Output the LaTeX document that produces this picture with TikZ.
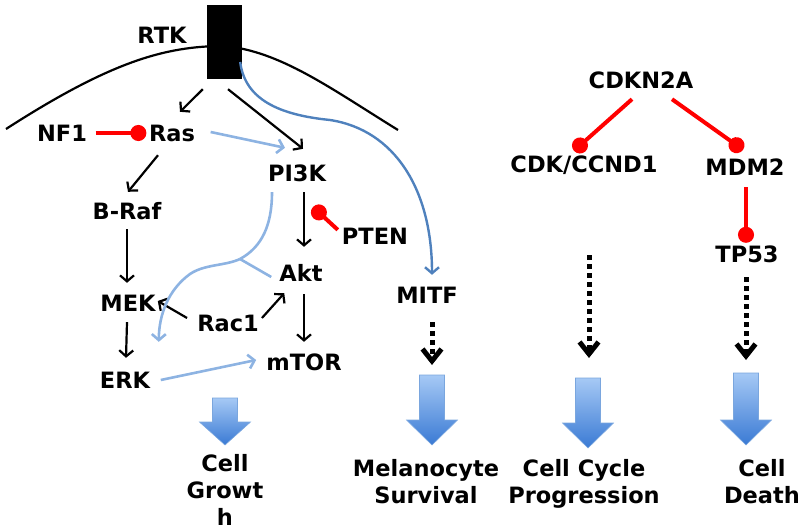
\documentclass[tikz,border=0pt]{standalone}
\usepackage{fontspec}
\setmainfont{DejaVu Sans}
\usetikzlibrary{arrows.meta}

\definecolor{ArrowBlue}{HTML}{8DB3E2}
\definecolor{MitfBlue}{HTML}{4F81BD}
\definecolor{InhibitRed}{HTML}{FF0000}
\definecolor{FateTop}{HTML}{A6C9F5}
\definecolor{FateBottom}{HTML}{3A7AD4}
\definecolor{FateEdge}{HTML}{7AA6DE}

\tikzstyle{gene}=[inner sep=0pt, font=\fontsize{22.5}{27}\selectfont\bfseries, text height=16pt, text depth=0pt]
\tikzstyle{fate}=[inner sep=0pt, anchor=north, align=center, font=\fontsize{22.5}{27}\selectfont\bfseries]
\tikzstyle{act}=[line width=2.2pt, -{Straight Barb[length=6pt,width=14pt]}]
\tikzstyle{act-light}=[act, ArrowBlue, line width=2.6pt]
\tikzstyle{inhibit}=[InhibitRed, line width=4pt, -{Circle[length=16pt]}]
\tikzstyle{dotted-arrow}=[line width=5pt, dash pattern=on 4.5pt off 4.5pt, -{Straight Barb[length=12pt,width=19pt,line width=5pt]}]

\begin{document}
\begin{tikzpicture}[x=1pt, y=-1pt]
      \useasboundingbox (0,0) rectangle (800,529);

      \draw[line width=2.2pt] (6,129) .. controls (110,62) and (165,46) .. (224,46) .. controls (280,51) and (330,88) .. (398,130);
      \node (rtk) at (224.5,42) [fill=black, minimum width=35pt, minimum height=74pt, inner sep=0pt] {};
      \node (rtklabel) at (162,36) [gene] {RTK};

      \node (nf1) at (62,134) [gene] {NF1};
      \node (ras) at (172,134) [gene] {Ras};
      \node (pi3k) at (297,174) [gene] {PI3K};
      \node (braf) at (127,212) [gene] {B-Raf};
      \node (pten) at (375,237) [gene] {PTEN};
      \node (akt) at (301,273) [gene] {Akt};
      \node (mek) at (128,303) [gene] {MEK};
      \node (rac1) at (228,323) [gene] {Rac1};
      \node (mtor) at (304,362) [gene] {mTOR};
      \node (erk) at (125,380) [gene] {ERK};
      \node (mitf) at (427,295) [gene] {MITF};

      \node (cdkn2a) at (641,81) [gene] {CDKN2A};
      \node (cdk) at (584,165) [gene] {CDK/CCND1};
      \node (mdm2) at (745,168) [gene] {MDM2};
      \node (tp53) at (747,255) [gene] {TP53};

      \coordinate (pi3kfork) at (240,259);
      \coordinate (ptenhit) at (313,207);
      \coordinate (tipsurvival) at (432,365);
      \coordinate (tipcycle) at (589,358);
      \coordinate (tipdeath) at (746,360);

      \draw[act] ([shift={(-4,10)}]rtk.south west) -- ([shift={(8,-14)}]ras.north);
      \draw[act] ([shift={(3.5,10)}]rtk.south) -- ([shift={(6,-17)}]pi3k.north);
      \draw[act-light] ([shift={(15.5,-2)}]ras.east) -- ([shift={(-12,-18)}]pi3k.north);
      \draw[inhibit] ([shift={(8.6,-1)}]nf1.east) -- ([shift={(-2.5,-1)}]ras.west);
      \draw[act] ([shift={(-14,13)}]ras.south) -- ([shift={(1,-12)}]braf.north);
      \draw[act] ([shift={(0,9)}]braf.south) -- ([shift={(-1,-12)}]mek.north);
      \draw[act] ([shift={(-1,11)}]mek.south) -- ([shift={(1,-14)}]erk.north);
      \draw[act] ([shift={(-10,-5)}]rac1.west) -- ([shift={(2,-2)}]mek.east);
      \draw[act] ([shift={(3,-5)}]rac1.east) -- ([shift={(5,12)}]akt.south west);
      \draw[act] ([shift={(7,10)}]pi3k.south) -- ([shift={(3,-18)}]akt.north);
      \draw[act] ([shift={(3,13)}]akt.south) -- ([shift={(0,-12)}]mtor.north);
      \draw[act-light] ([shift={(10.5,0)}]erk.east) -- ([shift={(-10,-2)}]mtor.west);
      \draw[inhibit] ([shift={(-4,1)}]pten.north west) -- (ptenhit);

      \draw[ArrowBlue, line width=2.6pt] ([shift={(-25,10)}]pi3k.south) .. controls (272,225) and (262,247) .. (pi3kfork);
      \draw[act-light] (pi3kfork) .. controls (225,266) and (205,264) .. (190,274) .. controls (168,290) and (159,315) .. ([shift={(8.5,-30)}]erk.north east);
      \draw[ArrowBlue, line width=2.6pt] (pi3kfork) -- ([shift={(-8,4)}]akt.west);
      \draw[act, MitfBlue, line width=2.4pt] ([shift={(-2,20)}]rtk.east) .. controls (245,100) and (280,115) .. (330,120) .. controls (395,130) and (432,190) .. ([shift={(5,-12)}]mitf.north);

      \draw[inhibit] ([shift={(-9,10)}]cdkn2a.south) -- ([shift={(-10,-6)}]cdk.north);
      \draw[inhibit] ([shift={(31,10)}]cdkn2a.south) -- ([shift={(-2,-10)}]mdm2.north);
      \draw[inhibit] ([shift={(1,11)}]mdm2.south) -- ([shift={(-1,-4)}]tp53.north);

      \draw[dotted-arrow] ([shift={(5,19)}]mitf.south) -- (tipsurvival);
      \draw[dotted-arrow] ([shift={(5,82)}]cdk.south) -- (tipcycle);
      \draw[dotted-arrow] ([shift={(-1,14)}]tp53.south) -- (tipdeath);

      \foreach \x/\ytop/\yneck/\ytip in {225/398/422/445, 432/375/420/445, 588/378/423/448, 746/373/420/445}
        \shade[top color=FateTop, bottom color=FateBottom, draw=FateEdge, line width=0.6pt] (\x-12.5,\ytop) -- (\x+12.5,\ytop) -- (\x+12.5,\yneck) -- (\x+25.5,\yneck) -- (\x,\ytip) -- (\x-25.5,\yneck) -- (\x-12.5,\yneck) -- cycle;

      \node (growth) at (225,454) [fate] {Cell\\Growt\\h};
      \node (survival) at (426,459) [fate] {Melanocyte\\Survival};
      \node (cycle) at (584,459) [fate] {Cell Cycle\\Progression};
      \node (death) at (762,459) [fate] {Cell\\Death};
    \end{tikzpicture}
\end{document}
